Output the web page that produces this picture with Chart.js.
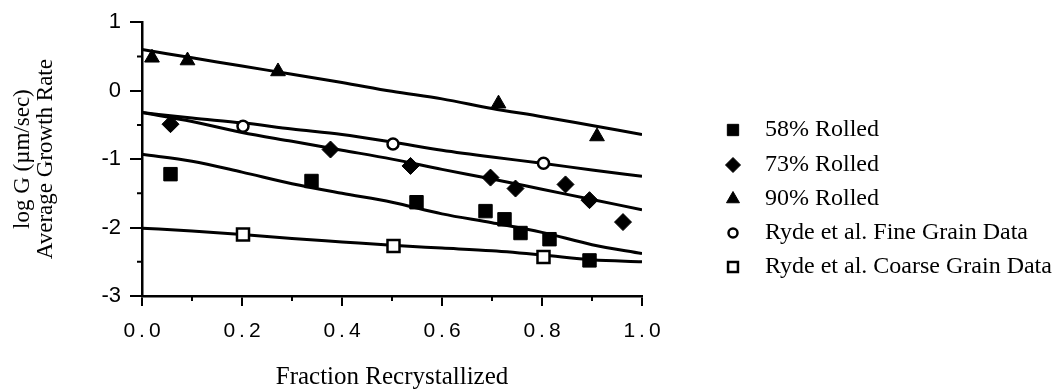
<!DOCTYPE html>
<html>
<head>
<meta charset="utf-8">
<script src="https://cdn.jsdelivr.net/npm/chart.js@4.4.0/dist/chart.umd.min.js"></script>
<style>
    body { margin: 0; background: #fff; }
    #wrap { width: 1064px; height: 392px; }
</style>
</head>
<body>
<div id="wrap"><canvas id="growthChart" width="1064" height="392"></canvas></div>
<script>
// fitted curves, sampled along fraction recrystallized
const fitX = [0, 0.1, 0.2, 0.3, 0.4, 0.5, 0.6, 0.7, 0.8, 0.9, 1.0];
const fit90 = [0.60, 0.48, 0.36, 0.24, 0.12, -0.01, -0.12, -0.26, -0.38, -0.51, -0.64];
const fitFine = [-0.32, -0.40, -0.47, -0.56, -0.64, -0.75, -0.87, -0.97, -1.06, -1.16, -1.25];
const fit73 = [-0.32, -0.45, -0.61, -0.74, -0.87, -1.00, -1.15, -1.29, -1.44, -1.59, -1.74];
const fit58 = [-0.93, -1.03, -1.19, -1.36, -1.50, -1.63, -1.80, -1.93, -2.07, -2.25, -2.38];
const fitCoarse = [-2.01, -2.05, -2.10, -2.16, -2.21, -2.26, -2.30, -2.34, -2.40, -2.47, -2.50];

// measured points
const x58 = [0.057, 0.339, 0.549, 0.687, 0.725, 0.757, 0.815, 0.895];
const y58 = [-1.22, -1.32, -1.63, -1.76, -1.88, -2.08, -2.17, -2.48];
const x73 = [0.057, 0.377, 0.537, 0.697, 0.747, 0.847, 0.895, 0.962];
const y73 = [-0.49, -0.86, -1.10, -1.27, -1.43, -1.37, -1.60, -1.92];
const x90 = [0.020, 0.091, 0.272, 0.713, 0.910];
const y90 = [0.48, 0.44, 0.28, -0.19, -0.67];
const xFine = [0.202, 0.502, 0.803];
const yFine = [-0.52, -0.78, -1.06];
const xCoarse = [0.202, 0.503, 0.803];
const yCoarse = [-2.10, -2.27, -2.43];

const legendLabels = ['58% Rolled', '73% Rolled', '90% Rolled', 'Ryde et al. Fine Grain Data', 'Ryde et al. Coarse Grain Data'];

const serif = "'Liberation Serif', 'DejaVu Serif', serif";
const sans = "'Liberation Sans', Arial, sans-serif";

function pts(xs, ys) {
    return xs.map((x, i) => ({ x: x, y: ys[i] }));
}

function fitLine(ys) {
    return {
        data: pts(fitX, ys),
        showLine: true,
        borderColor: '#000',
        borderWidth: 3,
        pointRadius: 0,
        cubicInterpolationMode: 'monotone',
        order: 2
    };
}

function markers(xs, ys, style, radius, fill) {
    return {
        data: pts(xs, ys),
        showLine: false,
        pointStyle: style,
        pointRadius: radius,
        pointBackgroundColor: fill,
        pointBorderColor: '#000',
        pointBorderWidth: fill === '#fff' ? 2.5 : 1,
        order: 1
    };
}

// spread out x tick labels like the original
const spacedLabels = {
    id: 'spacedLabels',
    beforeDraw(chart) {
        const xs = chart.scales.x;
        if (xs._spaced) return;
        const orig = xs.drawLabels.bind(xs);
        xs.drawLabels = function (area) {
            const ctx = chart.ctx;
            ctx.save();
            ctx.letterSpacing = '4px';
            ctx.translate(2, 0);
            orig(area);
            ctx.restore();
        };
        xs._spaced = true;
    }
};

// short minor ticks between the labelled ones
const minorTicks = {
    id: 'minorTicks',
    afterDraw(chart) {
        const ctx = chart.ctx;
        const xs = chart.scales.x, ys = chart.scales.y;
        const area = chart.chartArea;
        ctx.save();
        ctx.strokeStyle = '#000';
        ctx.lineWidth = 2;
        ctx.beginPath();
        [0.1, 0.3, 0.5, 0.7, 0.9].forEach(v => {
            const px = xs.getPixelForValue(v);
            ctx.moveTo(px, area.bottom);
            ctx.lineTo(px, area.bottom + 5);
        });
        [0.5, -0.5, -1.5, -2.5].forEach(v => {
            const py = ys.getPixelForValue(v);
            ctx.moveTo(area.left, py);
            ctx.lineTo(area.left - 5, py);
        });
        ctx.stroke();
        ctx.restore();
    }
};

const sideLegend = {
    id: 'sideLegend',
    afterDraw(chart) {
        const ctx = chart.ctx;
        const styles = [
            { pointStyle: 'rect', radius: 8, fill: '#000', bw: 1 },
            { pointStyle: 'rectRot', radius: 7.5, fill: '#000', bw: 1 },
            { pointStyle: 'triangle', radius: 7.5, fill: '#000', bw: 1 },
            { pointStyle: 'circle', radius: 4.5, fill: '#fff', bw: 2.5 },
            { pointStyle: 'rect', radius: 7, fill: '#fff', bw: 2.5 }
        ];
        const rowY = [130, 165, 199, 233, 267];
        ctx.save();
        legendLabels.forEach((label, i) => {
            const s = styles[i];
            ctx.fillStyle = s.fill;
            ctx.strokeStyle = '#000';
            ctx.lineWidth = s.bw;
            Chart.helpers.drawPoint(ctx, { pointStyle: s.pointStyle, radius: s.radius, rotation: 0, borderWidth: s.bw }, 733, rowY[i]);
            ctx.fillStyle = '#000';
            ctx.font = '24px ' + serif;
            ctx.textBaseline = 'middle';
            ctx.textAlign = 'left';
            ctx.fillText(label, 765, rowY[i]);
        });
        ctx.restore();
    }
};

const chart = new Chart(document.getElementById('growthChart').getContext('2d'), {
    type: 'scatter',
    data: {
        datasets: [
            fitLine(fit90),
            fitLine(fitFine),
            fitLine(fit73),
            fitLine(fit58),
            fitLine(fitCoarse),
            markers(x58, y58, 'rect', 9.5, '#000'),
            markers(x73, y73, 'rectRot', 8.5, '#000'),
            markers(x90, y90, 'triangle', 8.5, '#000'),
            markers(xFine, yFine, 'circle', 5.5, '#fff'),
            markers(xCoarse, yCoarse, 'rect', 8.5, '#fff')
        ]
    },
    options: {
        responsive: false,
        animation: false,
        layout: { padding: { left: 0, right: 422, top: 15, bottom: 0 } },
        plugins: {
            legend: { display: false },
            tooltip: { enabled: false }
        },
        scales: {
            x: {
                type: 'linear',
                min: 0,
                max: 1,
                afterFit(s) { s.height = 96; },
                border: { display: true, color: '#000', width: 2.5 },
                grid: { drawOnChartArea: false, color: '#000', lineWidth: 2, tickLength: 10 },
                ticks: {
                    stepSize: 0.2,
                    color: '#000',
                    padding: 13,
                    font: { family: sans, size: 21 },
                    callback: v => v.toFixed(1)
                },
                title: {
                    display: true,
                    text: 'Fraction Recrystallized',
                    color: '#000',
                    font: { family: serif, size: 25 },
                    padding: { top: 1, bottom: 0 }
                }
            },
            y: {
                type: 'linear',
                min: -3,
                max: 1,
                afterFit(s) { s.width = 142; },
                border: { display: true, color: '#000', width: 2.5 },
                grid: { drawOnChartArea: false, color: '#000', lineWidth: 2, tickLength: 12 },
                ticks: {
                    stepSize: 1,
                    color: '#000',
                    padding: 9,
                    font: { family: sans, size: 22 },
                    callback: v => String(v)
                },
                title: {
                    display: true,
                    text: ['log G (\u00b5m/sec)', 'Average Growth Rate'],
                    color: '#000',
                    font: { family: serif, size: 23, lineHeight: 1.0 },
                    padding: { top: 11, bottom: 0 }
                }
            }
        }
    },
    plugins: [spacedLabels, minorTicks, sideLegend]
});
</script>
</body>
</html>
